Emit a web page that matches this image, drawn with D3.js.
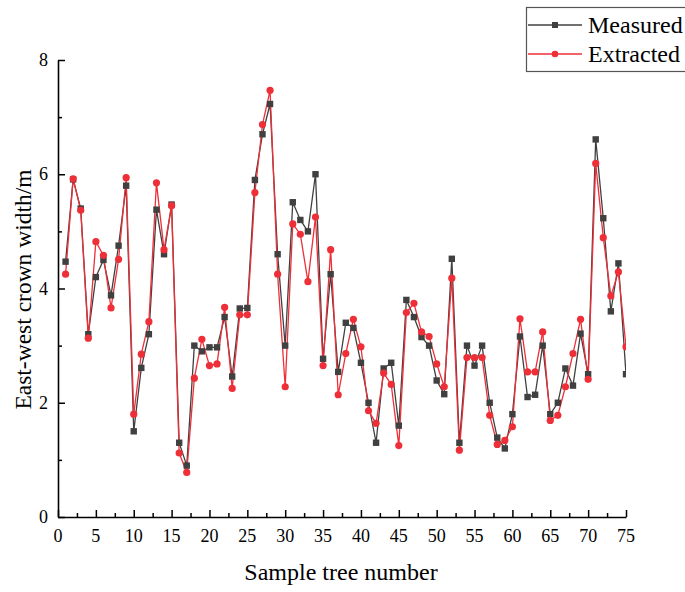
<!DOCTYPE html>
<html><head><meta charset="utf-8">
<script src="https://cdn.jsdelivr.net/npm/d3@7"></script>
<style>body{margin:0;background:#fff;}svg{display:block;}</style>
</head><body>
<script>
const sampleIds = d3.range(1, 76);
const measured = [4.47,5.91,5.40,3.20,4.20,4.50,3.88,4.75,5.80,1.50,2.61,3.20,5.38,4.60,5.47,1.30,0.90,3.00,2.90,2.97,2.97,3.50,2.46,3.65,3.66,5.90,6.70,7.23,4.60,3.00,5.51,5.20,5.00,6.00,2.77,4.25,2.54,3.40,3.31,2.70,2.00,1.30,2.60,2.70,1.60,3.80,3.50,3.15,3.00,2.39,2.15,4.52,1.30,3.00,2.65,3.00,2.00,1.39,1.20,1.80,3.16,2.10,2.14,3.00,1.80,2.00,2.60,2.30,3.21,2.50,6.61,5.23,3.60,4.44,2.50];
const extracted = [4.25,5.92,5.37,3.13,4.82,4.58,3.66,4.51,5.94,1.80,2.85,3.42,5.85,4.68,5.45,1.12,0.78,2.43,3.11,2.65,2.68,3.67,2.25,3.54,3.54,5.68,6.87,7.47,4.25,2.28,5.13,4.95,4.12,5.25,2.65,4.68,2.14,2.86,3.46,2.98,1.86,1.64,2.52,2.32,1.25,3.58,3.74,3.24,3.16,2.68,2.28,4.18,1.17,2.79,2.79,2.79,1.78,1.27,1.34,1.58,3.47,2.54,2.54,3.24,1.69,1.78,2.28,2.86,3.46,2.41,6.19,4.89,3.87,4.29,2.98];
const xTicks = [0,5,10,15,20,25,30,35,40,45,50,55,60,65,70,75];
const yTicks = [0,2,4,6,8];
const seriesNames = ["Measured","Extracted"];
const seriesColors = ["#404040","#ee2f37"];

const W = 685, H = 592;
const m = {left:58, right:59, top:60, bottom:75};
const svg = d3.select("body").append("svg").attr("width",W).attr("height",H)
  .style("font-family","'Liberation Serif','Times New Roman',serif");
const x = d3.scaleLinear().domain([0,75]).range([m.left, W-m.right]);
const y = d3.scaleLinear().domain([0,8]).range([H-m.bottom, m.top]);

svg.append("defs").append("clipPath").attr("id","clip")
  .append("rect").attr("x",x(0)).attr("y",y(8)-10).attr("width",x(75)-x(0)).attr("height",y(0)-y(8)+20);

// axes
const xAxis = svg.append("g").attr("transform",`translate(0,${y(0)})`);
xAxis.call(d3.axisBottom(x).tickValues(d3.range(0,75.1,2.5)).tickSizeInner(0).tickSizeOuter(0).tickFormat(""));
xAxis.select(".domain").attr("stroke","#000").attr("stroke-width",1.6);
xAxis.selectAll(".tick line").attr("y2",d=>-(d%5===0?7:4)).attr("stroke","#000").attr("stroke-width",1.5);
xTicks.forEach(t=>{
  svg.append("text").attr("x",x(t)).attr("y",y(0)+25).attr("text-anchor","middle")
    .attr("font-size",18).attr("fill","#000").text(t);
});
const yAxis = svg.append("g").attr("transform",`translate(${x(0)},0)`);
yAxis.call(d3.axisLeft(y).tickValues(d3.range(0,8.1,1)).tickSizeInner(0).tickSizeOuter(0).tickFormat(""));
yAxis.select(".domain").attr("stroke","#000").attr("stroke-width",1.6);
yAxis.selectAll(".tick line").attr("x2",d=>(d%2===0?7:4)).attr("stroke","#000").attr("stroke-width",1.5);
yTicks.forEach(t=>{
  svg.append("text").attr("x",x(0)-10).attr("y",y(t)+6).attr("text-anchor","end")
    .attr("font-size",18).attr("fill","#000").text(t);
});

svg.append("text").attr("x",(x(0)+x(75))/2-1).attr("y",580).attr("text-anchor","middle")
  .attr("font-size",24).attr("fill","#000").text("Sample tree number");
svg.append("text").attr("transform",`translate(31,${(y(0)+y(8))/2+1}) rotate(-90)`).attr("text-anchor","middle")
  .attr("font-size",23.5).attr("fill","#000").text("East-west crown width/m");

const plot = svg.append("g").attr("clip-path","url(#clip)");
const line = d3.line().x((d,i)=>x(sampleIds[i])).y(d=>y(d));
[measured, extracted].forEach((vals,k)=>{
  plot.append("path").datum(vals).attr("d",line).attr("fill","none")
    .attr("stroke",seriesColors[k]).attr("stroke-width",1.3);
});
plot.selectAll("rect.m").data(measured).enter().append("rect").attr("class","m")
  .attr("x",(d,i)=>x(sampleIds[i])-3.2).attr("y",d=>y(d)-3.2).attr("width",6.4).attr("height",6.4)
  .attr("fill",seriesColors[0]);
plot.selectAll("circle.e").data(extracted).enter().append("circle").attr("class","e")
  .attr("cx",(d,i)=>x(sampleIds[i])).attr("cy",d=>y(d)).attr("r",3.6)
  .attr("fill",seriesColors[1]);

// legend
const lg = svg.append("g");
lg.append("rect").attr("x",526.5).attr("y",7.5).attr("width",170).attr("height",64)
  .attr("fill","#fff").attr("stroke","#555").attr("stroke-width",1.2);
seriesNames.forEach((n,k)=>{
  const yy = 25 + k*29;
  lg.append("line").attr("x1",528).attr("x2",582).attr("y1",yy).attr("y2",yy)
    .attr("stroke",seriesColors[k]).attr("stroke-width",1.3);
  if(k===0) lg.append("rect").attr("x",552).attr("y",yy-3).attr("width",6).attr("height",6).attr("fill",seriesColors[0]);
  else lg.append("circle").attr("cx",555).attr("cy",yy).attr("r",3.3).attr("fill",seriesColors[1]);
  lg.append("text").attr("x",588).attr("y",yy+8).attr("font-size",24).attr("fill","#000").text(n);
});
</script>
</body></html>
